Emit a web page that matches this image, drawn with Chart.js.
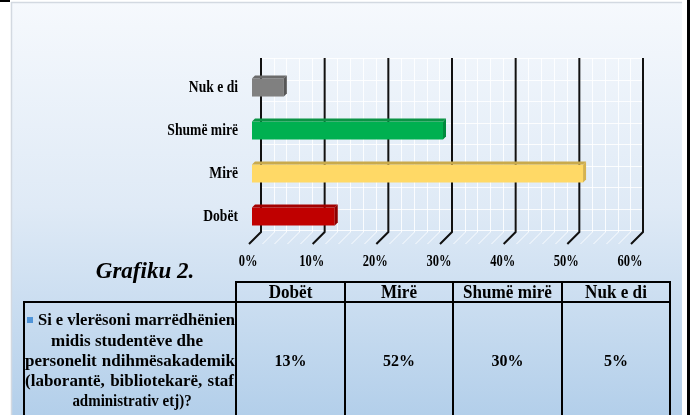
<!DOCTYPE html>
<html>
<head>
<meta charset="utf-8">
<script src="https://cdn.jsdelivr.net/npm/chart.js@4.4.0/dist/chart.umd.min.js"></script>
<style>
html, body { margin: 0; padding: 0; background: #fff; }
canvas { display: block; }
</style>
</head>
<body>
<canvas id="grafiku" width="694" height="415"></canvas>
<script>
// data
const categories = ['Dobët', 'Mirë', 'Shumë mirë', 'Nuk e di'];
const values = [13, 52, 30, 5];
const xTicks = [0, 10, 20, 30, 40, 50, 60];
const chartTitle = 'Grafiku 2.';
const questionLines = [
    'Si e vlerësoni marrëdhënien',
    'midis studentëve dhe',
    'personelit ndihmësakademik',
    '(laborantë, bibliotekarë, staf',
    'administrativ etj)?'
];

// bar colours: front, top, side
const frontColors = ['#c00000', '#ffd966', '#00b050', '#808080'];
const topColors = ['#a30000', '#c9aa4c', '#0b9445', '#6b6b6b'];
const sideColors = ['#8c0000', '#d6b24e', '#008a3e', '#565656'];

const SERIF = '"Liberation Serif", "Times New Roman", serif';

// text squeezed horizontally (the labels look condensed)
function fillSqueezed(ctx, text, x, y, sx, align) {
    ctx.save();
    ctx.translate(x, y);
    ctx.scale(sx, 1);
    ctx.textAlign = align;
    ctx.fillText(text, 0, 0);
    ctx.restore();
}

// line of text spread between x0 and x1
function fillJustified(ctx, text, x0, x1, y) {
    const words = text.split(' ');
    const widths = words.map(w => ctx.measureText(w).width);
    const total = widths.reduce((a, b) => a + b, 0);
    const minGap = 4;
    let sx = 1;
    if (total + minGap * (words.length - 1) > x1 - x0) {
        sx = (x1 - x0 - minGap * (words.length - 1)) / total;
    }
    const gap = (x1 - x0 - total * sx) / (words.length - 1);
    let x = x0;
    words.forEach((w, i) => {
        fillSqueezed(ctx, w, x, y, sx, 'left');
        x += widths[i] * sx + gap;
    });
}

// slide background
const slidePlugin = {
    id: 'slide',
    beforeDraw(chart) {
        const ctx = chart.ctx;
        const h = chart.height;
        ctx.save();
        ctx.fillStyle = '#ffffff';
        ctx.fillRect(0, 0, chart.width, h);
        const g = ctx.createLinearGradient(0, 0, 0, h);
        g.addColorStop(0, '#f6f9fd');
        g.addColorStop(0.5, '#dfeaf6');
        g.addColorStop(1, '#b3cfea');
        ctx.fillStyle = g;
        ctx.fillRect(11, 2, 671, h);
        ctx.strokeStyle = '#d3d9e1';
        ctx.lineWidth = 1.5;
        ctx.beginPath();
        ctx.moveTo(11.5, 2);
        ctx.lineTo(11.5, h);
        ctx.moveTo(11, 2.5);
        ctx.lineTo(682, 2.5);
        ctx.stroke();
        ctx.fillStyle = '#000';
        ctx.fillRect(687, 0, 3, h);
        ctx.fillRect(0, 0, 10, 2);
        ctx.restore();
    }
};

// back wall, floor and the black grid lines
const wallPlugin = {
    id: 'wall',
    beforeDatasetsDraw(chart) {
        const { ctx, chartArea, scales } = chart;
        const xs = scales.x;
        const band = (chartArea.bottom - chartArea.top) / categories.length;
        const back = 9;
        const wallTop = chartArea.top - 8;
        const wallBottom = chartArea.bottom - 6;
        const floorFront = chartArea.bottom + 6;
        const left = xs.getPixelForValue(xTicks[0]);
        const right = xs.getPixelForValue(xTicks[xTicks.length - 1]);

        ctx.save();
        // white minor lines on the wall
        ctx.strokeStyle = 'rgba(255,255,255,0.85)';
        ctx.lineWidth = 1;
        ctx.beginPath();
        for (let v = xTicks[0]; v <= xTicks[xTicks.length - 1]; v += 2) {
            const px = Math.round(xs.getPixelForValue(v) + back) + 0.5;
            ctx.moveTo(px, wallTop);
            ctx.lineTo(px, wallBottom);
            // floor hatch
            ctx.moveTo(px, wallBottom);
            ctx.lineTo(px - 12, floorFront);
        }
        for (let k = 0; k <= categories.length * 2; k++) {
            const py = Math.round(wallTop + k * band / 2) + 0.5;
            ctx.moveTo(left + back, py);
            ctx.lineTo(right + back, py);
        }
        ctx.stroke();

        // black major lines
        ctx.strokeStyle = '#111';
        ctx.lineWidth = 2;
        ctx.beginPath();
        xTicks.forEach(v => {
            const px = xs.getPixelForValue(v);
            ctx.moveTo(px + back, wallTop);
            ctx.lineTo(px + back, wallBottom);
            ctx.lineTo(px - 3, floorFront);
        });
        ctx.stroke();
        ctx.restore();
    }
};

// top and side faces of the bars
const depthPlugin = {
    id: 'depth',
    afterDatasetsDraw(chart) {
        const ctx = chart.ctx;
        const meta = chart.getDatasetMeta(0);
        const d = 3;
        ctx.save();
        meta.data.forEach((bar, i) => {
            const p = bar.getProps(['x', 'y', 'base', 'height'], true);
            const top = p.y - p.height / 2;
            const bottom = p.y + p.height / 2;
            ctx.fillStyle = topColors[i];
            ctx.beginPath();
            ctx.moveTo(p.base, top);
            ctx.lineTo(p.base + d, top - d);
            ctx.lineTo(p.x + d, top - d);
            ctx.lineTo(p.x, top);
            ctx.closePath();
            ctx.fill();
            ctx.fillStyle = sideColors[i];
            ctx.beginPath();
            ctx.moveTo(p.x, top);
            ctx.lineTo(p.x + d, top - d);
            ctx.lineTo(p.x + d, bottom - d);
            ctx.lineTo(p.x, bottom);
            ctx.closePath();
            ctx.fill();
        });
        ctx.restore();
    }
};

// axis labels, drawn condensed from the scales
const axisLabelPlugin = {
    id: 'axisLabels',
    afterDatasetsDraw(chart) {
        const { ctx, chartArea, scales } = chart;
        ctx.save();
        ctx.fillStyle = '#000';
        ctx.textBaseline = 'middle';
        ctx.font = 'bold 17px ' + SERIF;
        categories.forEach((c, i) => {
            fillSqueezed(ctx, c, chartArea.left - 14, scales.y.getPixelForValue(i), 0.8, 'right');
        });
        ctx.font = 'bold 16px ' + SERIF;
        xTicks.forEach(v => {
            fillSqueezed(ctx, v + '%', scales.x.getPixelForValue(v) - 4, chartArea.bottom + 24, 0.78, 'center');
        });
        ctx.restore();
    }
};

// title and data table under the chart
const tablePlugin = {
    id: 'dataTable',
    afterDraw(chart) {
        const ctx = chart.ctx;
        const cols = [236, 345, 453, 562, 670];
        const headTop = 282, headBottom = 302, rowBottom = 418;
        const labelLeft = 24;

        ctx.save();
        ctx.fillStyle = '#000';
        ctx.textBaseline = 'middle';
        ctx.textAlign = 'center';
        ctx.font = 'italic bold 23px ' + SERIF;
        ctx.fillText(chartTitle, 145, 272);

        // borders
        ctx.strokeStyle = '#000';
        ctx.lineWidth = 2;
        ctx.strokeRect(cols[0], headTop, cols[cols.length - 1] - cols[0], headBottom - headTop);
        ctx.strokeRect(labelLeft, headBottom, cols[cols.length - 1] - labelLeft, rowBottom - headBottom);
        ctx.beginPath();
        cols.forEach(cx => {
            ctx.moveTo(cx, headTop);
            ctx.lineTo(cx, rowBottom);
        });
        ctx.stroke();

        // header and values
        for (let i = 0; i < categories.length; i++) {
            const mid = (cols[i] + cols[i + 1]) / 2;
            ctx.font = 'bold 18px ' + SERIF;
            fillSqueezed(ctx, categories[i], mid, 293, 0.95, 'center');
            ctx.font = 'bold 16px ' + SERIF;
            ctx.textAlign = 'center';
            ctx.fillText(values[i] + '%', mid, 362);
        }

        // series label
        ctx.fillStyle = '#4f94d8';
        ctx.fillRect(27, 317, 6, 6);
        ctx.fillStyle = '#000';
        ctx.font = 'bold 17px ' + SERIF;
        const lineY = [321, 342, 362, 382, 402];
        fillJustified(ctx, questionLines[0], 38, 235, lineY[0]);
        fillSqueezed(ctx, questionLines[1], 127, lineY[1], 1, 'center');
        fillJustified(ctx, questionLines[2], 25, 235, lineY[2]);
        fillJustified(ctx, questionLines[3], 25, 234, lineY[3]);
        fillSqueezed(ctx, questionLines[4], 132, lineY[4], 0.88, 'center');
        ctx.restore();
    }
};

const ctx = document.getElementById('grafiku');
const chart = new Chart(ctx, {
    type: 'bar',
    data: {
        labels: categories,
        datasets: [{
            data: values,
            backgroundColor: frontColors,
            borderWidth: 0,
            barPercentage: 0.42,
            categoryPercentage: 1
        }]
    },
    options: {
        indexAxis: 'y',
        responsive: false,
        animation: false,
        devicePixelRatio: 1,
        layout: {
            padding: { top: 66, right: 60, bottom: 0, left: 0 }
        },
        plugins: {
            legend: { display: false },
            tooltip: { enabled: false }
        },
        scales: {
            x: {
                type: 'linear',
                min: xTicks[0],
                max: xTicks[xTicks.length - 1],
                afterBuildTicks: scale => {
                    scale.ticks = xTicks.map(v => ({ value: v }));
                },
                afterFit: scale => {
                    scale.height = 415 - 238;
                },
                grid: { display: false, drawTicks: false },
                border: { display: false },
                ticks: { display: false }
            },
            y: {
                reverse: true,
                afterFit: scale => {
                    scale.width = 252;
                },
                grid: { display: false, drawTicks: false },
                border: { display: false },
                ticks: { display: false }
            }
        }
    },
    plugins: [slidePlugin, wallPlugin, depthPlugin, axisLabelPlugin, tablePlugin]
});
</script>
</body>
</html>
